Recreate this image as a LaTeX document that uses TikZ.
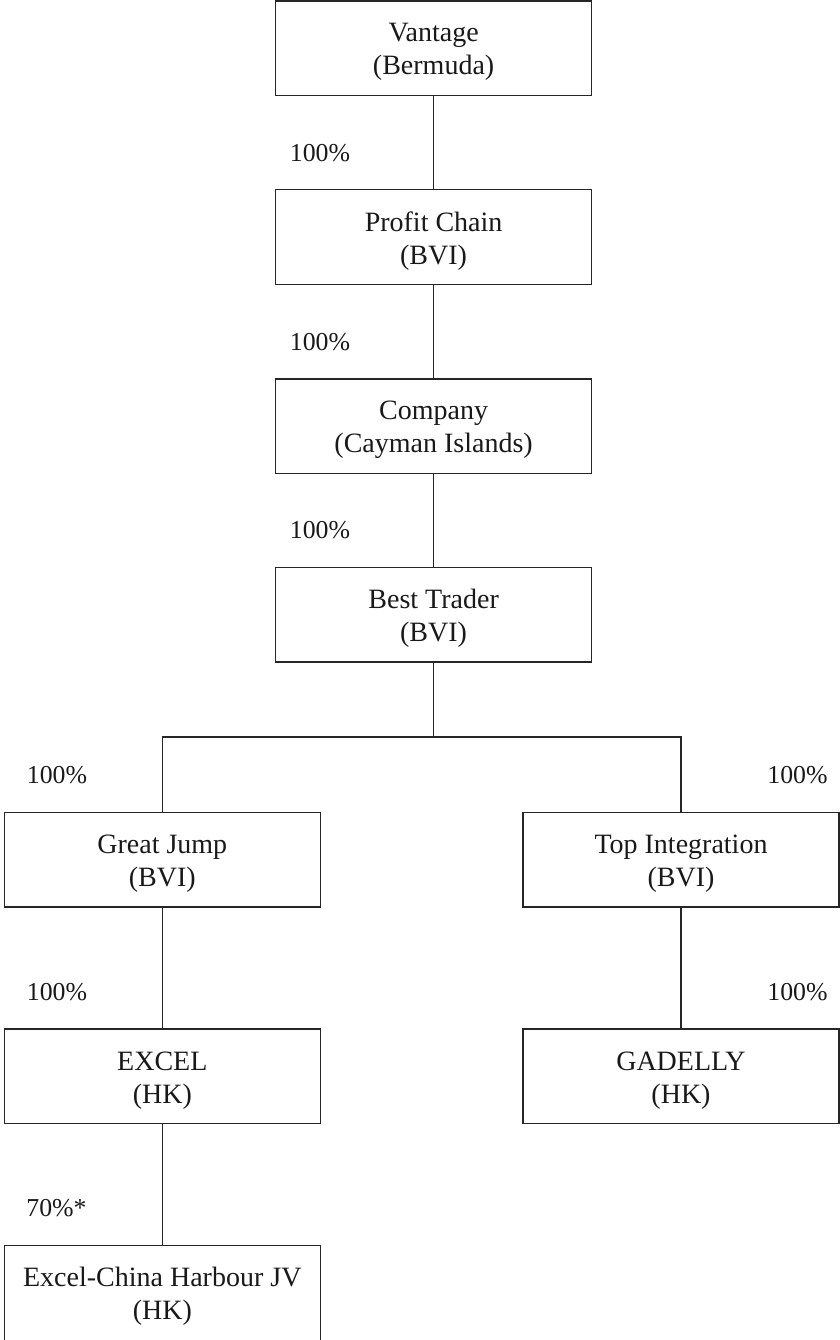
\documentclass[tikz,border=0pt]{standalone}
\usepackage{fontspec}
\setmainfont{Liberation Serif}
\begin{document}
\begin{tikzpicture}[x=0.5pt,y=-0.5pt,
  ent/.style={draw=black!85, line width=0.7pt, rectangle, minimum width=158pt, minimum height=47.4pt, inner sep=0pt},
  enttext/.style={align=center, inner sep=0pt, text=black!90, font=\fontsize{14}{16.5}\selectfont, yshift=-2pt},
  pct/.style={text=black!90, font=\fontsize{12.9}{15}\selectfont, inner sep=0pt},
  conn/.style={draw=black!85, line width=0.7pt}]
\useasboundingbox (0,0) rectangle (840,1340);
\node[ent, label={[enttext]center:{Vantage\\(Bermuda)}}] (V) at (433.6,48.2) {};
\node[ent, label={[enttext]center:{Profit Chain\\(BVI)}}] (PC) at (433.6,236.8) {};
\node[ent, label={[enttext]center:{Company\\(Cayman Islands)}}] (CO) at (433.6,426.2) {};
\node[ent, label={[enttext]center:{Best Trader\\(BVI)}}] (BT) at (433.6,614.7) {};
\node[ent, label={[enttext]center:{Great Jump\\(BVI)}}] (GJ) at (162.3,859.7) {};
\node[ent, label={[enttext]center:{Top Integration\\(BVI)}}] (TI) at (681,859.7) {};
\node[ent, label={[enttext]center:{EXCEL\\(HK)}}] (EX) at (162.3,1076.2) {};
\node[ent, label={[enttext]center:{GADELLY\\(HK)}}] (GA) at (681,1076.2) {};
\node[ent, anchor=north, minimum height=49pt] (EC) at (162.3,1245) {};
\node[enttext] (ECt) at (162.3,1292.5) {Excel-China Harbour JV\\(HK)};
\coordinate (jl) at (162.3,737);
\coordinate (jr) at (681,737);
\draw[conn] (V) -- (PC);
\draw[conn] (PC) -- (CO);
\draw[conn] (CO) -- (BT);
\draw[conn] (BT.south) -- (BT.south |- jl);
\draw[conn] (GJ.north) -- (jl) -- (jr) -- (TI.north);
\draw[conn] (GJ) -- (EX);
\draw[conn] (TI) -- (GA);
\draw[conn] (EX.south) -- (EC.north);
\node[pct] (p1) at (320,153) {100\%};
\node[pct] (p2) at (320,342) {100\%};
\node[pct] (p3) at (320,530) {100\%};
\node[pct] (p4) at (57,775) {100\%};
\node[pct] (p5) at (797.5,775) {100\%};
\node[pct] (p6) at (57,992) {100\%};
\node[pct] (p7) at (797.5,992) {100\%};
\node[pct, anchor=west] (p8) at (26,1208) {70\%*};
\end{tikzpicture}
\end{document}
